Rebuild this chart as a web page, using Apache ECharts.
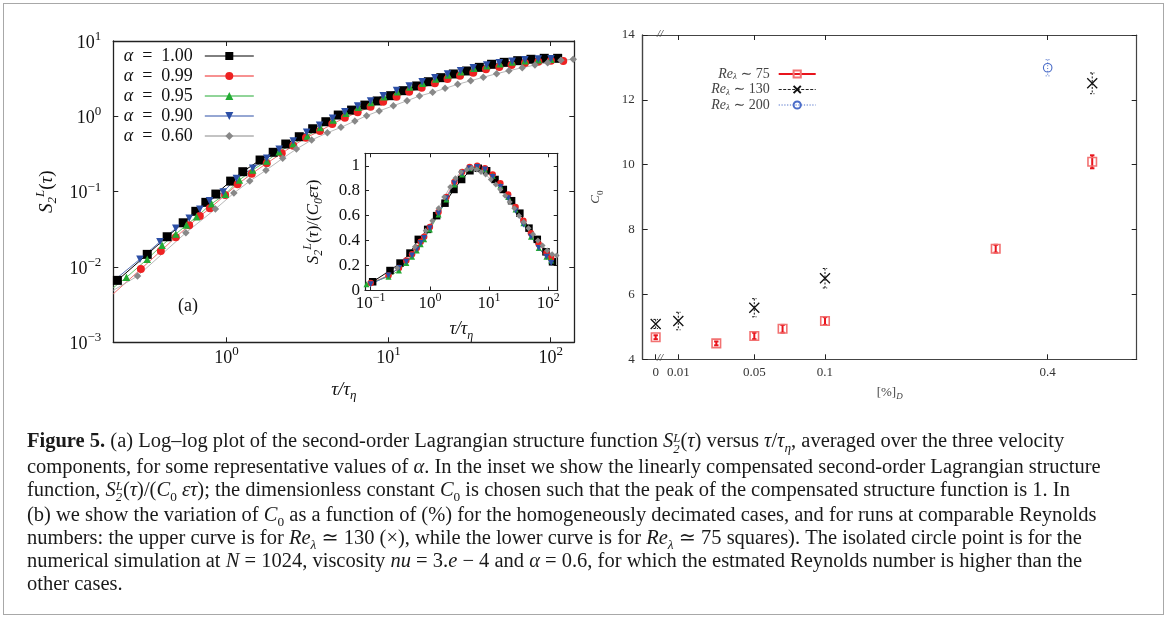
<!DOCTYPE html>
<html>
<head>
<meta charset="utf-8">
<script src="https://cdn.jsdelivr.net/npm/echarts@6/dist/echarts.min.js"></script>
<style>
  html, body { margin: 0; padding: 0; background: #fff; }
  #wrap { position: relative; width: 1168px; height: 621px; overflow: hidden; }
  #chart { position: absolute; left: 0; top: 0; width: 1168px; height: 621px; }
  #frame { position: absolute; left: 3px; top: 3px; width: 1161px; height: 612px; border: 1px solid #a8a8a8; box-sizing: border-box; pointer-events: none; }
  #caption { position: absolute; left: 27px; top: 429px; font-family: "Liberation Serif", "DejaVu Serif", serif; font-size: 20.5px; line-height: 23px; color: #1a1a1a; white-space: nowrap; }
  #caption sub, #caption sup { font-size: 0.65em; line-height: 0; }
  .ss { display: inline-block; vertical-align: -0.45em; line-height: 0.85em; font-size: 0.62em; font-style: italic; }
  .ss span { display: block; }
</style>
</head>
<body>
<div id="wrap">
  <div id="chart"></div>
  <div id="frame"></div>
  <div id="caption">
    <div><b>Figure 5.</b> (a) Log–log plot of the second-order Lagrangian structure function <i>S</i><span class="ss"><span>L</span><span>2</span></span>(<i>τ</i>) versus <i>τ</i>/<i>τ<sub>η</sub></i>, averaged over the three velocity</div>
    <div>components, for some representative values of <i>α</i>. In the inset we show the linearly compensated second-order Lagrangian structure</div>
    <div>function, <i>S</i><span class="ss"><span>L</span><span>2</span></span>(<i>τ</i>)/(<i>C</i><sub>0</sub> <i>ετ</i>); the dimensionless constant <i>C</i><sub>0</sub> is chosen such that the peak of the compensated structure function is 1. In</div>
    <div>(b) we show the variation of <i>C</i><sub>0</sub> as a function of (%) for the homogeneously decimated cases, and for runs at comparable Reynolds</div>
    <div>numbers: the upper curve is for <i>Re<sub>λ</sub></i> ≃ 130 (×), while the lower curve is for <i>Re<sub>λ</sub></i> ≃ 75 squares). The isolated circle point is for the</div>
    <div>numerical simulation at <i>N</i> = 1024, viscosity <i>nu</i> = 3.<i>e</i> − 4 and <i>α</i> = 0.6, for which the estmated Reynolds number is higher than the</div>
    <div>other cases.</div>
  </div>
</div>
<script>
// ---- panel (a): S2L(tau) for several alpha ----
const alphaNames = ['1.00', '0.99', '0.95', '0.90', '0.60'];
const tauEdge = 0.2;                       // left border of panel (a)
const sEdge = [0.0061, 0.0044, 0.0053, 0.0065, 0.0049];

const tau100 = [0.212,0.324,0.430,0.540,0.646,0.745,0.859,1.06,1.26,1.61,1.94,2.32,2.81,3.40,4.10,4.89,5.91,7.14,8.51,10.3,12.3,14.9,17.6,21.0,25.1,30.3,36.3,43.2,51.7,62.6,75.6,91.3,110.5];
const s100 = [0.00664,0.0147,0.0252,0.0386,0.0548,0.0721,0.0929,0.138,0.184,0.263,0.333,0.429,0.536,0.684,0.848,1.04,1.21,1.41,1.60,1.88,2.19,2.53,2.88,3.26,3.65,4.00,4.47,4.91,5.21,5.48,5.72,5.89,5.89];

const tau099 = [0.296,0.393,0.486,0.588,0.684,0.789,0.980,1.17,1.43,1.77,2.19,2.58,3.09,3.77,4.49,5.37,6.44,7.74,9.26,11.2,13.4,16.0,19.3,23.1,27.6,33.3,39.9,48.2,57.4,69.4,83.9,100.4,119.6];
const s099 = [0.00938,0.0163,0.0249,0.0357,0.0474,0.0600,0.0901,0.125,0.173,0.238,0.323,0.407,0.520,0.638,0.790,0.958,1.13,1.34,1.56,1.82,2.12,2.40,2.74,3.13,3.46,3.79,4.21,4.51,4.80,5.10,5.31,5.48,5.42];

const tau095 = [0.241,0.324,0.400,0.486,0.566,0.653,0.808,0.983,1.20,1.45,1.77,2.11,2.58,3.15,3.78,4.55,5.45,6.49,7.78,9.35,11.3,13.5,16.2,19.5,23.3,27.9,33.6,40.3,48.6,57.9,69.4,83.9,100.4];
const s095 = [0.00728,0.0127,0.0195,0.0274,0.0360,0.0464,0.0691,0.0924,0.143,0.194,0.255,0.339,0.433,0.548,0.710,0.893,1.10,1.32,1.53,1.82,2.12,2.45,2.74,3.13,3.54,3.91,4.34,4.70,5.00,5.26,5.48,5.65,5.72];

const tau090 = [0.292,0.388,0.486,0.588,0.684,0.785,0.953,1.15,1.45,1.77,2.11,2.58,3.12,3.75,4.51,5.37,6.44,7.74,9.26,11.2,13.4,16.1,19.3,23.1,27.8,33.3,40.3,48.2,57.9,69.4,83.9,100.4];
const s090 = [0.0127,0.0216,0.0326,0.0442,0.0582,0.0757,0.0988,0.150,0.204,0.277,0.365,0.470,0.613,0.759,0.941,1.15,1.37,1.60,1.88,2.21,2.53,2.88,3.26,3.65,4.03,4.42,4.80,5.15,5.38,5.65,5.77,5.82];

const tau060 = [0.282,0.561,0.853,1.11,1.39,1.75,2.22,2.70,3.35,4.19,5.08,6.19,7.32,8.75,10.7,13.0,15.5,18.7,22.3,26.7,32.1,38.4,46.4,55.3,66.8,80.0,95.8,115.8,137.9];
const s060 = [0.00757,0.0285,0.0587,0.0958,0.138,0.192,0.277,0.368,0.485,0.604,0.714,0.866,1.02,1.18,1.38,1.61,1.86,2.08,2.35,2.66,2.97,3.30,3.68,4.03,4.42,4.80,5.15,5.54,5.72];

// ---- inset: S2L(tau)/(C0 eps tau) ----
const inTau100 = [0.108,0.212,0.313,0.461,0.637,0.918,1.30,1.80,2.55,3.44,4.75,6.57,9.1,12.6,17.4,24.0,33.1,47.2,65.2,91.4,118];
const inV100 = [0.07,0.16,0.22,0.30,0.41,0.49,0.60,0.70,0.81,0.89,0.96,0.98,0.96,0.89,0.81,0.72,0.62,0.50,0.41,0.31,0.23];
const inTauB = [0.1,0.2,0.3,0.4,0.5,0.6,0.7,0.8,1.0,1.4,1.9,2.6,3.5,4.7,6.3,8.5,11.5,15.5,21,28,38,51,69,93,112];
const inV099 = [0.06,0.12,0.18,0.24,0.29,0.34,0.39,0.43,0.51,0.63,0.75,0.87,0.95,0.99,1.0,0.98,0.93,0.86,0.77,0.67,0.56,0.46,0.37,0.30,0.26];
const inTau095 = [0.085,0.2,0.3,0.4,0.5,0.6,0.7,0.8,1.0,1.4,1.9,2.6,3.5,4.7,6.3,8.5,11.5,15.5,21,28,38,51,69,93,112];
const inV095 = [0.05,0.11,0.16,0.22,0.27,0.32,0.37,0.41,0.49,0.61,0.73,0.85,0.93,0.98,0.99,0.97,0.92,0.84,0.75,0.65,0.54,0.43,0.34,0.27,0.24];
const inV090 = [0.05,0.12,0.18,0.23,0.28,0.33,0.38,0.42,0.50,0.62,0.74,0.86,0.94,0.98,0.99,0.97,0.91,0.83,0.74,0.64,0.53,0.43,0.34,0.27,0.22];
const inTau060 = [0.28,0.56,0.85,1.1,1.4,1.75,2.2,2.7,3.35,4.2,5.1,6.2,7.3,8.75,10.7,13,15.5,18.7,22.3,26.7,32,38.4,46.4,55.3,66.8,80,96,116,138];
const inV060 = [0.18,0.35,0.48,0.56,0.66,0.75,0.83,0.90,0.95,0.97,0.98,0.97,0.95,0.93,0.89,0.85,0.81,0.76,0.71,0.66,0.60,0.55,0.50,0.45,0.40,0.36,0.32,0.29,0.28];

// ---- panel (b): C0 vs [%]_D ----
const pctTicks = [0, 0.01, 0.05, 0.1, 0.4];
const pctTickLabels = ['0', '0.01', '0.05', '0.1', '0.4'];
const re75P = [0, 0.03, 0.05, 0.07, 0.1, 0.33, 0.46];
const re75C = [4.68, 4.49, 4.72, 4.94, 5.18, 7.41, 10.09];
const re75Err = [0.06, 0.06, 0.1, 0.12, 0.12, 0.12, 0.2];
const re130P = [0, 0.01, 0.05, 0.1, 0.46];
const re130C = [5.09, 5.18, 5.59, 6.50, 12.51];
const re130Err = [0.14, 0.27, 0.28, 0.30, 0.32];
const re200P = [0.4];
const re200C = [12.99];
const re200Err = [0.25];

// broken, uneven x scale of panel (b): where each tick sits, in % of the frame width
const pctTickPos = [2.63, 7.21, 22.59, 36.90, 81.98];
function pctToAxis(p) {
  let i = 1;
  while (i < pctTicks.length - 1 && p > pctTicks[i]) i++;
  const p0 = pctTicks[i - 1], p1 = pctTicks[i], u0 = pctTickPos[i - 1], u1 = pctTickPos[i];
  return u0 + (p - p0) * (u1 - u0) / (p1 - p0);
}

const SERIF = '"Liberation Serif", "DejaVu Serif", serif';
const L = Math.log10;

function pow10(v) {
  const e = Math.round(v);
  return '{b|10}{s|' + (e < 0 ? '\u2212' + (-e) : e) + '}';
}
function powRich(fs, color) {
  return {
    b: { fontSize: fs, fontFamily: SERIF, color: color, lineHeight: fs + 4, verticalAlign: 'bottom' },
    s: { fontSize: Math.round(fs * 0.7), fontFamily: SERIF, color: color, lineHeight: Math.round(fs * 0.7), verticalAlign: 'top' }
  };
}
const nameRich = (fs) => ({
  i: { fontSize: fs, fontFamily: SERIF, fontStyle: 'italic', color: '#111' },
  n: { fontSize: fs, fontFamily: SERIF, color: '#111' },
  s: { fontSize: Math.round(fs * 0.68), fontFamily: SERIF, fontStyle: 'italic', color: '#111', verticalAlign: 'bottom', lineHeight: fs + 6 },
  p: { fontSize: Math.round(fs * 0.68), fontFamily: SERIF, fontStyle: 'italic', color: '#111', verticalAlign: 'top', lineHeight: fs + 6 }
});

const styles = [
  { symbol: 'rect', size: 9, color: '#000000', line: '#000000' },
  { symbol: 'circle', size: 8, color: '#ee2222', line: '#f07070' },
  { symbol: 'triangle', size: 7.5, color: '#22aa33', line: '#66c266' },
  { symbol: 'path://M0,0L10,0L5,8.66Z', size: 7.5, color: '#2c4fa6', line: '#5a74b8' },
  { symbol: 'diamond', size: 7.5, color: '#888888', line: '#b8b8b8' }
];
const mainTau = [tau100, tau099, tau095, tau090, tau060];
const mainS = [s100, s099, s095, s090, s060];
const insetTau = [inTau100, inTauB, inTau095, inTauB, inTau060];
const insetV = [inV100, inV099, inV095, inV090, inV060];

const series = [];
alphaNames.forEach((name, k) => {
  const st = styles[k];
  const data = [{ value: [L(tauEdge), L(sEdge[k])], symbol: 'none' }]
    .concat(mainTau[k].map((t, i) => [L(t), L(mainS[k][i])]));
  series.push({
    name: name, type: 'line', xAxisIndex: 0, yAxisIndex: 0, data: data,
    symbol: st.symbol, symbolSize: st.size, showSymbol: true,
    itemStyle: { color: st.color }, lineStyle: { color: st.line, width: 1 },
    emphasis: { disabled: true }, animation: false
  });
});
alphaNames.forEach((name, k) => {
  const st = styles[k];
  series.push({
    name: name, type: 'line', xAxisIndex: 2, yAxisIndex: 2,
    data: insetTau[k].map((t, i) => [L(t), insetV[k][i]]),
    symbol: st.symbol, symbolSize: st.size - 1.5, showSymbol: true,
    itemStyle: { color: st.color }, lineStyle: { color: st.line, width: 1 },
    emphasis: { disabled: true }, animation: false
  });
});

function errRender(color, width, dash, cap) {
  return function (params, api) {
    const x = api.value(0), lo = api.value(1), hi = api.value(2);
    const a = api.coord([x, hi]), b = api.coord([x, lo]);
    const style = { stroke: color, lineWidth: width, lineDash: dash, fill: null };
    return {
      type: 'group', children: [
        { type: 'line', shape: { x1: a[0], y1: a[1], x2: b[0], y2: b[1] }, style: style },
        { type: 'line', shape: { x1: a[0] - cap, y1: a[1], x2: a[0] + cap, y2: a[1] }, style: style },
        { type: 'line', shape: { x1: b[0] - cap, y1: b[1], x2: b[0] + cap, y2: b[1] }, style: style }
      ]
    };
  };
}
const groups = [
  { name: '75', P: re75P, C: re75C, E: re75Err, sym: 'rect', size: 8.5, mk: { color: 'rgba(0,0,0,0)', borderColor: '#f27272', borderWidth: 1.6 },
    err: errRender('#e8141c', 2, null, 2.2), leg: { color: '#e8141c', width: 2, type: 'solid', opacity: 1 } },
  { name: '130', P: re130P, C: re130C, E: re130Err, sym: 'path://M0,0L10,10M10,0L0,10', size: 10, mk: { color: 'rgba(0,0,0,0)', borderColor: '#111', borderWidth: 1.3 },
    err: errRender('#111', 1, [2, 1.5], 2.2), leg: { color: '#222', width: 1.2, type: [3, 1.5], opacity: 1 } },
  { name: '200', P: re200P, C: re200C, E: re200Err, sym: 'circle', size: 8.5, mk: { color: 'rgba(0,0,0,0)', borderColor: '#4a6cc8', borderWidth: 1.1 },
    err: errRender('#4a6cc8', 1, [1, 1.8], 2), leg: { color: '#4a6cc8', width: 1, type: [1.2, 1.6], opacity: 1 } }
];
groups.forEach(g => {
  series.push({
    name: 'err' + g.name, type: 'custom', xAxisIndex: 4, yAxisIndex: 4,
    data: g.P.map((p, i) => [pctToAxis(p), g.C[i] - g.E[i], g.C[i] + g.E[i]]),
    encode: { x: 0, y: [1, 2] }, renderItem: g.err, animation: false, silent: true
  });
  series.push({
    name: g.name, type: 'line', xAxisIndex: 4, yAxisIndex: 4,
    data: g.P.map((p, i) => [pctToAxis(p), g.C[i]]),
    symbol: g.sym, symbolSize: g.size, showSymbol: true,
    itemStyle: g.mk, lineStyle: { opacity: 0, color: g.leg.color },
    emphasis: { disabled: true }, animation: false
  });
});

const tickIn = (len) => ({ show: true, inside: true, length: len, lineStyle: { color: '#222', width: 1 } });
const frameLine = (c, w) => ({ show: true, onZero: false, lineStyle: { color: c, width: w } });

const option = {
  animation: false,
  backgroundColor: '#fff',
  grid: [
    { left: 113.3, top: 41, width: 461, height: 301.3 },
    { left: 365, top: 153.3, width: 192.7, height: 137.2 },
    { left: 642.7, top: 35, width: 494, height: 324.3 }
  ],
  xAxis: [
    { gridIndex: 0, type: 'value', position: 'bottom', min: L(tauEdge), max: 2.146,
      axisLine: frameLine('#222', 1.3), axisTick: Object.assign(tickIn(5), { customValues: [0, 1, 2] }),
      axisLabel: { customValues: [0, 1, 2], formatter: pow10, margin: 3, rich: powRich(18, '#111') },
      splitLine: { show: false },
      name: '{i|τ/τ}{s|η}', nameLocation: 'middle', nameGap: 35, nameTextStyle: { rich: nameRich(19) } },
    { gridIndex: 0, type: 'value', position: 'top', min: L(tauEdge), max: 2.146,
      axisLine: frameLine('#222', 1.3), axisTick: Object.assign(tickIn(5), { customValues: [0, 1, 2] }),
      axisLabel: { show: false }, splitLine: { show: false } },
    { gridIndex: 1, type: 'value', position: 'bottom', min: -1.096, max: 2.159,
      axisLine: frameLine('#222', 1.2), axisTick: Object.assign(tickIn(4), { customValues: [-1, 0, 1, 2] }),
      axisLabel: { customValues: [-1, 0, 1, 2], formatter: pow10, margin: 1, rich: powRich(17, '#111') },
      splitLine: { show: false },
      name: '{i|τ/τ}{s|η}', nameLocation: 'middle', nameGap: 27, nameTextStyle: { rich: nameRich(18) } },
    { gridIndex: 1, type: 'value', position: 'top', min: -1.096, max: 2.159,
      axisLine: frameLine('#222', 1.2), axisTick: Object.assign(tickIn(4), { customValues: [-1, 0, 1, 2] }),
      axisLabel: { show: false }, splitLine: { show: false } },
    { gridIndex: 2, type: 'value', position: 'bottom', min: 0, max: 100,
      axisLine: frameLine('#444', 1.2), axisTick: Object.assign(tickIn(5), { customValues: pctTickPos }),
      axisLabel: { customValues: pctTickPos, margin: 7, color: '#333', fontFamily: SERIF, fontSize: 13,
        formatter: v => { let b = 0; pctTickPos.forEach((u, i) => { if (Math.abs(u - v) < Math.abs(pctTickPos[b] - v)) b = i; }); return pctTickLabels[b]; } },
      splitLine: { show: false },
      name: '{n|[%]}{s|D}', nameLocation: 'middle', nameGap: 24,
      nameTextStyle: { rich: { n: { fontSize: 13, fontFamily: SERIF, color: '#444' }, s: { fontSize: 9, fontFamily: SERIF, fontStyle: 'italic', color: '#444', verticalAlign: 'bottom', lineHeight: 18 } } } },
    { gridIndex: 2, type: 'value', position: 'top', min: 0, max: 100,
      axisLine: frameLine('#444', 1.2), axisTick: Object.assign(tickIn(5), { customValues: pctTickPos.slice(1) }),
      axisLabel: { show: false }, splitLine: { show: false } }
  ],
  yAxis: [
    { gridIndex: 0, type: 'value', position: 'left', min: -3, max: 1, interval: 1,
      axisLine: frameLine('#222', 1.3), axisTick: tickIn(5),
      axisLabel: { formatter: pow10, margin: 12, rich: powRich(18, '#111') }, splitLine: { show: false },
      name: '{i|S}{s|2}{p|L}{n|(}{i|τ}{n|)}', nameLocation: 'middle', nameRotate: 90, nameGap: 54,
      nameTextStyle: { rich: nameRich(19) } },
    { gridIndex: 0, type: 'value', position: 'right', min: -3, max: 1, interval: 1,
      axisLine: frameLine('#222', 1.3), axisTick: tickIn(5), axisLabel: { show: false }, splitLine: { show: false } },
    { gridIndex: 1, type: 'value', position: 'left', min: 0, max: 1.1,
      axisLine: frameLine('#222', 1.2), axisTick: Object.assign(tickIn(4), { customValues: [0, 0.2, 0.4, 0.6, 0.8, 1] }),
      axisLabel: { customValues: [0, 0.2, 0.4, 0.6, 0.8, 1], margin: 5, color: '#111', fontFamily: SERIF, fontSize: 17,
        formatter: v => String(Math.round(v * 10) / 10) }, splitLine: { show: false },
      name: '{i|S}{s|2}{p|L}{n|(}{i|τ}{n|)/(}{i|C}{s|0}{i|ετ}{n|)}', nameLocation: 'middle', nameRotate: 90, nameGap: 40,
      nameTextStyle: { rich: nameRich(17) } },
    { gridIndex: 1, type: 'value', position: 'right', min: 0, max: 1.1,
      axisLine: frameLine('#222', 1.2), axisTick: Object.assign(tickIn(4), { customValues: [0, 0.2, 0.4, 0.6, 0.8, 1] }),
      axisLabel: { show: false }, splitLine: { show: false } },
    { gridIndex: 2, type: 'value', position: 'left', min: 4, max: 14, interval: 2,
      axisLine: frameLine('#444', 1.4), axisTick: tickIn(5),
      axisLabel: { margin: 8, color: '#333', fontFamily: SERIF, fontSize: 13 }, splitLine: { show: false },
      name: '{i|C}{s|0}', nameLocation: 'middle', nameRotate: 90, nameGap: 38,
      nameTextStyle: { rich: { i: { fontSize: 13, fontFamily: SERIF, fontStyle: 'italic', color: '#444' }, s: { fontSize: 9, fontFamily: SERIF, color: '#444', verticalAlign: 'bottom', lineHeight: 18 } } } },
    { gridIndex: 2, type: 'value', position: 'right', min: 4, max: 14, interval: 2,
      axisLine: frameLine('#444', 1.2), axisTick: tickIn(5), axisLabel: { show: false }, splitLine: { show: false } }
  ],
  legend: [
    { data: alphaNames.map((n, k) => ({ name: n, lineStyle: { color: styles[k].color, width: 1, opacity: 1 } })),
      orient: 'vertical', align: 'right', right: 1168 - 254.3, top: 47, padding: 0,
      itemWidth: 49, itemHeight: 10, itemGap: 2, selectedMode: false,
      formatter: n => '{g|α}{t|\u2002=\u2002' + n + '}',
      textStyle: { padding: [0, 7, 0, 0], rich: {
        g: { fontSize: 18, fontFamily: SERIF, fontStyle: 'italic', color: '#111' },
        t: { fontSize: 18, fontFamily: SERIF, color: '#111' } } } },
    { data: groups.map(g => ({ name: g.name, lineStyle: g.leg })), orient: 'vertical', align: 'right',
      right: 1168 - 816.7, top: 67, padding: 0, itemWidth: 37, itemHeight: 9, itemGap: 1, selectedMode: false,
      formatter: n => '{i|Re}{s|λ}{t| ∼ ' + n + '}',
      textStyle: { padding: [0, 4, 0, 0], rich: {
        i: { fontSize: 14, fontFamily: SERIF, fontStyle: 'italic', color: '#444' },
        s: { fontSize: 9, fontFamily: SERIF, fontStyle: 'italic', color: '#444', verticalAlign: 'bottom', lineHeight: 15 },
        t: { fontSize: 14, fontFamily: SERIF, color: '#444' } } } }
  ],
  graphic: [
    { type: 'text', left: 178, top: 297, style: { text: '(a)', font: '18px ' + SERIF, fill: '#111' } },
    { type: 'text', left: 657, top: 29, style: { text: '//', font: 'italic 11px ' + SERIF, fill: '#333' } },
    { type: 'text', left: 657, top: 353, style: { text: '//', font: 'italic 11px ' + SERIF, fill: '#333' } }
  ],
  series: series
};

const chart = echarts.init(document.getElementById('chart'));
chart.setOption(option);
</script>
</body>
</html>
